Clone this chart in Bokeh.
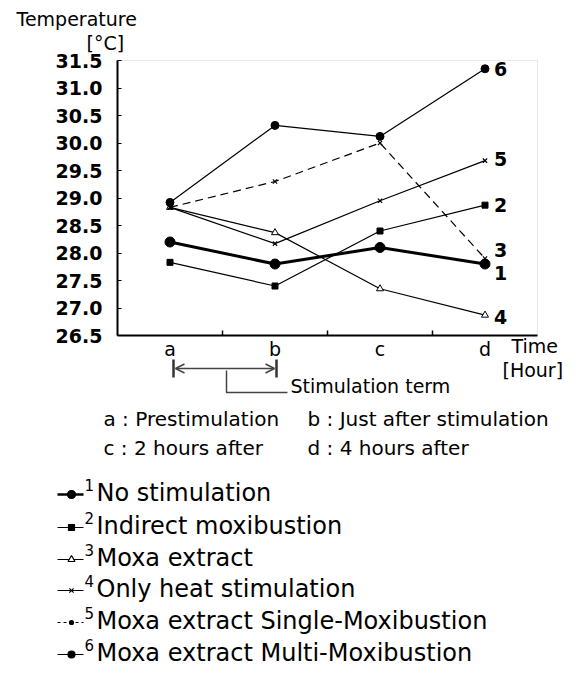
from bokeh.plotting import figure
from bokeh.models import (Range1d, FixedTicker, Label, Arrow, OpenHead, BoxAnnotation)
from bokeh.embed import file_html
from bokeh.resources import INLINE

# ---------------- data ----------------
times = ["a", "b", "c", "d"]
x_pos = [0, 1, 2, 3]
y_ticks = [26.5, 27.0, 27.5, 28.0, 28.5, 29.0, 29.5, 30.0, 30.5, 31.0, 31.5]
y_tick_labels = ["26.5", "27.0", "27.5", "28.0", "28.5", "29.0", "29.5",
                 "30.0", "30.5", "31.0", "31.5"]

no_stim = [28.20, 27.80, 28.10, 27.80]          # end label 1
indirect = [27.83, 27.40, 28.40, 28.87]         # end label 2
triangle_series = [28.83, 28.37, 27.35, 26.87]  # end label 4
dashed_series = [28.83, 29.30, 30.00, 27.90]    # end label 3
series5 = [28.83, 28.17, 28.95, 29.68]          # end label 5
series6 = [28.92, 30.32, 30.12, 31.35]          # end label 6

descriptions = [["a : Prestimulation", "b : Just after stimulation"],
                ["c : 2 hours after", "d : 4 hours after"]]
legend_nums = ["1", "2", "3", "4", "5", "6"]
legend_names = ["No stimulation", "Indirect moxibustion", "Moxa extract",
                "Only heat stimulation", "Moxa extract Single-Moxibustion",
                "Moxa extract Multi-Moxibustion"]

FONT = "DejaVu Sans"

# ---------------- geometry (page pixels -> data) ----------------
X0, Y0 = -0.5, 31.5          # data value at chart box left / top
BOX_L, BOX_T = 117, 60       # page pixel position of chart box left / top
PX_X, PX_Y = 105.0, 55.0     # pixels per x unit / per degree
W, H = 580, 670              # figure size
PAGE_OFF = 0                 # where the canvas starts on the page


def X(px):
    return X0 + (px - BOX_L) / PX_X


def Y(py):
    return Y0 - (py - BOX_T) / PX_Y


p = figure(width=W, height=H,
           x_range=Range1d(X(PAGE_OFF), X(PAGE_OFF + W)),
           y_range=Range1d(Y(PAGE_OFF + H), Y(PAGE_OFF)),
           min_border=0, min_border_left=0, min_border_right=0,
           min_border_top=0, min_border_bottom=0,
           output_backend="svg", toolbar_location=None)
p.xgrid.visible = False
p.ygrid.visible = False
p.outline_line_color = None

# chart box (top/right dotted edges)
p.add_layout(BoxAnnotation(left=x_pos[0] - 0.5, right=x_pos[-1] + 0.5,
                           bottom=y_ticks[0], top=y_ticks[-1],
                           fill_alpha=0, line_color="#666666", line_dash="1 1",
                           line_width=1, level="underlay"))

# y axis
p.yaxis.fixed_location = x_pos[0] - 0.5
p.yaxis.bounds = (y_ticks[0], y_ticks[-1])
p.yaxis.ticker = FixedTicker(ticks=y_ticks)
p.yaxis.major_label_overrides = {t: l for t, l in zip(y_ticks, y_tick_labels)}
p.yaxis.major_tick_in = 4
p.yaxis.major_tick_out = 0
p.yaxis.minor_tick_in = 0
p.yaxis.minor_tick_out = 0
p.yaxis.major_label_standoff = 15
p.yaxis.major_label_text_font = FONT
p.yaxis.major_label_text_font_style = "bold"
p.yaxis.major_label_text_font_size = "19px"
p.yaxis.major_label_text_baseline = "top"

# x axis
boundaries = [x + 0.5 for x in x_pos[:-1]]
p.xaxis.fixed_location = y_ticks[0]
p.xaxis.bounds = (x_pos[0] - 0.5, x_pos[-1] + 0.5)
p.xaxis.ticker = FixedTicker(ticks=x_pos, minor_ticks=boundaries)
p.xaxis.major_label_overrides = {x: t for x, t in zip(x_pos, times)}
p.xaxis.major_tick_in = 0
p.xaxis.major_tick_out = 0
p.xaxis.minor_tick_in = 5
p.xaxis.minor_tick_out = 0
p.xaxis.minor_tick_line_color = "black"
p.xaxis.minor_tick_line_width = 1.5
p.xaxis.major_label_standoff = 2
p.xaxis.major_label_text_font = FONT
p.xaxis.major_label_text_font_size = "19px"

for ax_ in (p.xaxis, p.yaxis):
    ax_.axis_line_width = 2
    ax_.axis_line_color = "black"
    ax_.major_label_text_color = "black"

# ---------------- series ----------------
p.line(x_pos, indirect, line_width=1.2, color="black")
p.scatter(x_pos, indirect, marker="square", size=6, color="black")

p.line(x_pos, triangle_series, line_width=1.2, color="black")
p.scatter(x_pos, triangle_series, marker="triangle", size=7, line_color="black",
          fill_color="white", line_width=1)

p.line(x_pos, dashed_series, line_width=1.2, color="black", line_dash="8 5")
p.scatter(x_pos, dashed_series, marker="x", size=6, line_color="black", line_width=1.2)

p.line(x_pos, series5, line_width=1.2, color="black")
p.scatter(x_pos, series5, marker="x", size=6, line_color="black", line_width=1.2)

p.line(x_pos, series6, line_width=1.2, color="black")
p.scatter(x_pos, series6, marker="circle", size=8, color="black")

p.line(x_pos, no_stim, line_width=3, color="black")
p.scatter(x_pos, no_stim, marker="circle", size=10, color="black")

# end-of-line numbers
end_series = [(no_stim, "1", -9), (indirect, "2", 0), (triangle_series, "4", -2),
              (dashed_series, "3", 9), (series5, "5", 2), (series6, "6", 0)]
for vals, lab, dy in end_series:
    p.add_layout(Label(x=x_pos[-1] + 9 / PX_X, y=vals[-1] + dy / PX_Y, text=lab,
                       text_font=FONT, text_font_size="19px", text_font_style="bold",
                       text_baseline="middle", text_align="left", text_color="black"))


def add_text(px, py, txt, size="19px", style="normal"):
    p.add_layout(Label(x=X(px), y=Y(py), text=txt, text_font=FONT,
                       text_font_size=size, text_font_style=style,
                       text_baseline="middle", text_align="left", text_color="black"))


add_text(16, 18, "Temperature")
add_text(86, 42, "[°C]")
add_text(511, 345, "Time")
add_text(502, 369, "[Hour]")

# stimulation-term arrow and bracket
p.segment(x0=[X(173), X(276)], y0=[Y(359), Y(359)], x1=[X(173), X(276)],
          y1=[Y(377), Y(377)], line_width=2.5, color="#333333")
p.add_layout(Arrow(start=OpenHead(size=9, line_width=1.5, line_color="#444444"),
                   end=OpenHead(size=9, line_width=1.5, line_color="#444444"),
                   x_start=X(175), y_start=Y(368), x_end=X(274), y_end=Y(368),
                   line_color="#444444", line_width=1.5))
p.line([X(226), X(226), X(287)], [Y(370), Y(392), Y(392)], line_width=1.5,
       color="#444444")
add_text(290, 385, "Stimulation term")

desc_y = [418, 447]
desc_x = [103, 307]
for r, row in enumerate(descriptions):
    for c, txt in enumerate(row):
        add_text(desc_x[c], desc_y[r], txt, size="20px")

# legend
row_y = [492, 525, 557, 588, 620, 652]
styles = [
    dict(lw=2.5, dash="solid", marker="circle", size=8, fill="black"),
    dict(lw=1.2, dash="solid", marker="square", size=6, fill="black"),
    dict(lw=1.2, dash="solid", marker="triangle", size=7, fill="white"),
    dict(lw=1.2, dash="solid", marker="x", size=6, fill="black"),
    dict(lw=1.2, dash="3 3", marker="circle", size=4, fill="black"),
    dict(lw=1.2, dash="solid", marker="circle", size=7, fill="black"),
]
for yy, st, num, name in zip(row_y, styles, legend_nums, legend_names):
    p.line([X(57), X(83)], [Y(yy + 2), Y(yy + 2)], line_width=st["lw"], color="black",
           line_dash=st["dash"])
    p.scatter([X(71)], [Y(yy + 2)], marker=st["marker"], size=st["size"],
              line_color="black", fill_color=st["fill"], line_width=1.2)
    add_text(84, yy - 8, num, size="15px")
    add_text(96, yy, name, size="24px")

open("out.html", "w").write(file_html(p, INLINE))
